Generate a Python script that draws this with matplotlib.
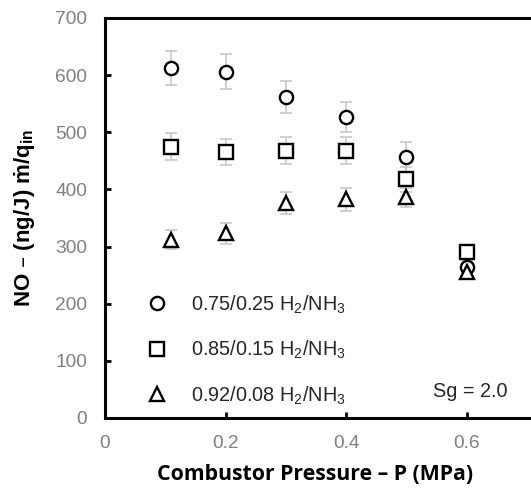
import matplotlib
matplotlib.use("Agg")
import matplotlib.pyplot as plt
from matplotlib.lines import Line2D

# Data
pressure = [0.11, 0.2, 0.3, 0.4, 0.5, 0.6]
no_075 = [613, 606, 561, 527, 456, 265]
err_075 = [30, 31, 28, 26, 27, 12]
no_085 = [475, 466, 468, 468, 418, 290]
err_085 = [24, 23, 23, 23, 22, 12]
no_092 = [312, 323, 376, 383, 386, 255]
err_092 = [17, 18, 19, 20, 17, 10]
labels = ["0.75/0.25 H$_2$/NH$_3$", "0.85/0.15 H$_2$/NH$_3$", "0.92/0.08 H$_2$/NH$_3$"]
markers = ["o", "s", "^"]
xticks = [0, 0.2, 0.4, 0.6]
xticklabels = ["0", "0.2", "0.4", "0.6"]
yticks = [0, 100, 200, 300, 400, 500, 600, 700]

plt.rcParams['font.family'] = ['Liberation Sans', 'DejaVu Sans']
plt.rcParams['mathtext.default'] = 'regular'

W, H = 531, 488
fig = plt.figure(figsize=(W / 100, H / 100), dpi=100)
left, right, top, bottom = 105, 539, 18, 418
ax = fig.add_axes([left / W, (H - bottom) / H, (right - left) / W, (bottom - top) / H])

series = [(no_075, err_075), (no_085, err_085), (no_092, err_092)]
mstyle = dict(linestyle="none", markersize=9.5, markerfacecolor="white",
              markeredgecolor="black", markeredgewidth=1.7)
handles = []
for (vals, errs), m, lab in zip(series, markers, labels):
    ax.errorbar(pressure, vals, yerr=errs, fmt="none", ecolor="#c4c4c4",
                elinewidth=1.1, capsize=4.3, capthick=1.1, zorder=1)
    ax.plot(pressure, vals, marker=m, zorder=3, **mstyle)
    handles.append(Line2D([], [], marker=m, label=lab, **mstyle))

ax.set_xlim(0, 0.72)
ax.set_ylim(0, 700)
ax.set_xticks(xticks)
ax.set_xticklabels(xticklabels)
ax.set_yticks(yticks)
ax.tick_params(direction="in", length=4, width=2, colors="black",
               labelcolor="#808080", labelsize=13.8)
ax.tick_params(axis="x", pad=12)
ax.tick_params(axis="y", pad=13)
ax.spines["right"].set_visible(False)
for s in ["left", "bottom", "top"]:
    ax.spines[s].set_linewidth(2.2)
    ax.spines[s].set_color("black")

ax.set_xlabel("Combustor Pressure – P (MPa)", fontsize=15.3, fontweight="bold",
              family=["Open Sans", "DejaVu Sans"])
ax.xaxis.set_label_coords(0.483, -0.14, transform=ax.transAxes)
ax.xaxis.label.set_va("center")
ax.set_ylabel("NO – (ng/J) ṁ/q$_{in}$", fontsize=16, fontweight="bold", labelpad=13)

leg = ax.legend(handles=handles, loc="upper left", bbox_to_anchor=(0.096, 0.312),
                frameon=False, fontsize=14.3, labelspacing=1.17, handletextpad=1.25,
                handlelength=1.0, borderaxespad=0, borderpad=0)
for t in leg.get_texts():
    t.set_color("#262626")

ax.text(0.667, 47, "Sg = 2.0", fontsize=14.3, color="#262626", ha="right", va="center")

fig.savefig("out.png", dpi=100)
